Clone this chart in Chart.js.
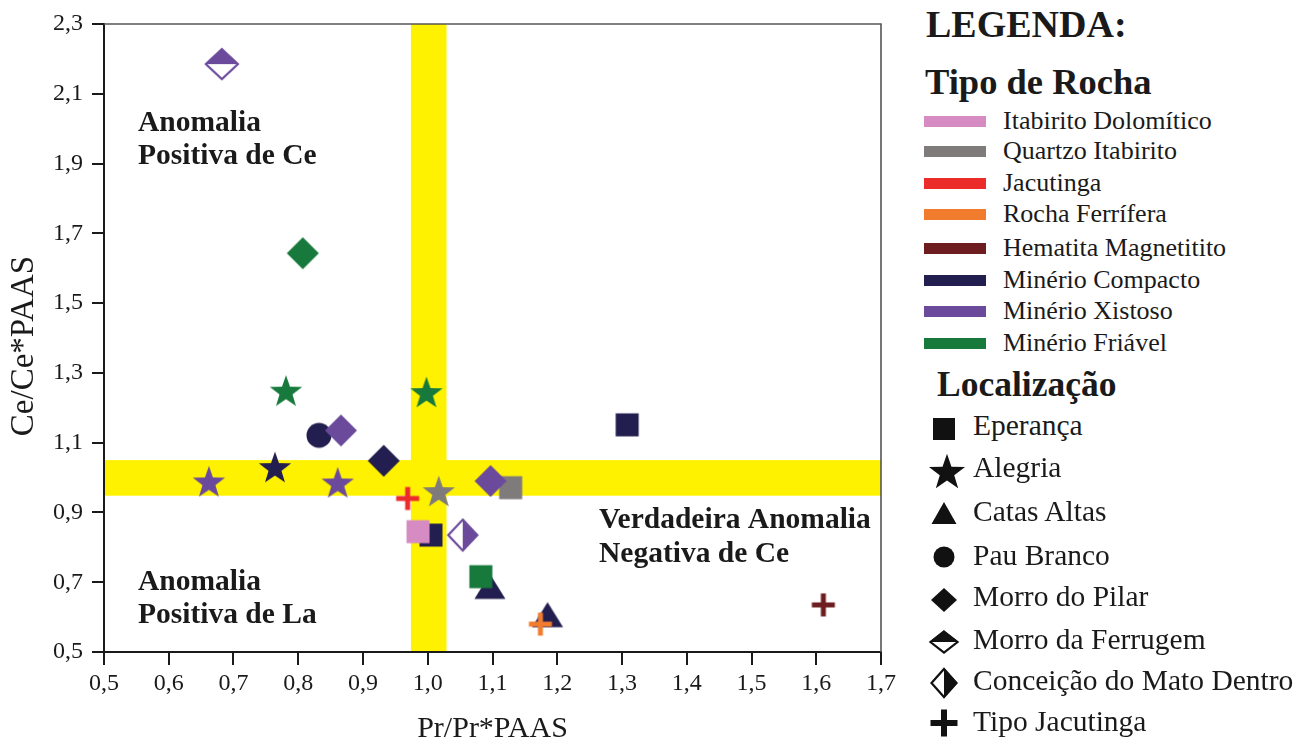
<!DOCTYPE html>
<html lang="pt">
<head>
<meta charset="utf-8">
<title>Ce/Ce*PAAS vs Pr/Pr*PAAS</title>
<script src="https://cdn.jsdelivr.net/npm/chart.js@4.4.1/dist/chart.umd.min.js"></script>
<style>
  html, body { margin: 0; padding: 0; background: #fff; }
  body { width: 1314px; height: 747px; position: relative; overflow: hidden;
         font-family: 'Liberation Serif', 'Times New Roman', serif; color: #1a1a1a; }
  #plot { position: absolute; left: 0; top: 0; width: 900px; height: 747px; }
  .lg { position: absolute; white-space: nowrap; line-height: 1; }
  .bar { position: absolute; }
  .sym { position: absolute; }
</style>
</head>
<body>
<div id="plot"><canvas id="chart"></canvas></div>
<div id="legend"></div>
<script>
// ---- data ----
const rockTypes = ['Itabirito Dolomítico', 'Quartzo Itabirito', 'Jacutinga', 'Rocha Ferrífera',
                   'Hematita Magnetitito', 'Minério Compacto', 'Minério Xistoso', 'Minério Friável'];
const sites = ['Eperança', 'Alegria', 'Catas Altas', 'Pau Branco', 'Morro do Pilar',
               'Morro da Ferrugem', 'Conceição do Mato Dentro', 'Tipo Jacutinga'];

// samples, listed in drawing order (index into rockTypes / sites)
const prValues  = [1.005, 0.985, 1.308, 1.128, 1.097, 1.096, 1.082, 1.185, 1.174, 1.611, 0.969, 1.017,
                   0.832, 0.866, 0.764, 0.662, 0.861, 0.932, 0.781, 0.998, 0.807, 0.682, 1.054];
const ceValues  = [0.835, 0.845, 1.151, 0.971, 0.990, 0.688, 0.716, 0.607, 0.580, 0.635, 0.940, 0.961,
                   1.121, 1.135, 1.030, 0.989, 0.986, 1.048, 1.249, 1.245, 1.643, 2.185, 0.835];
const sampleRock = [5, 0, 5, 1, 6, 5, 7, 5, 3, 4, 2, 1, 5, 6, 5, 6, 6, 5, 7, 7, 7, 6, 6];
const sampleSite = [0, 0, 0, 0, 4, 2, 0, 2, 7, 7, 7, 1, 3, 4, 1, 1, 1, 4, 1, 1, 4, 5, 6];

// axis ranges, ticks and titles
const xRange = [0.5, 1.7], xStep = 0.1;
const yRange = [0.5, 2.3], yStep = 0.2;
const xTitle = 'Pr/Pr*PAAS';
const yTitle = 'Ce/Ce*PAAS';
// reference bands around 1.0
const prBand = [0.974, 1.029];
const ceBand = [0.948, 1.050];

// field labels: [lines, x, y of first baseline]
const fieldNotes = [
  [['Anomalia', 'Positiva de Ce'], 0.5525, 1.994],
  [['Anomalia', 'Positiva de La'], 0.5525, 0.678],
  [['Verdadeira Anomalia', 'Negativa de Ce'], 1.2645, 0.854]
];

// ---- styles ----
const FONT = "'Liberation Serif', 'Times New Roman', serif";
const INK = '#1a1a1a';
const rockColors = ['#d68bc3', '#7f7b7a', '#ec2b2b', '#f27c2e', '#6d1d1f', '#221e4f', '#6b4a9c', '#177a3c'];
const siteShapes = ['square', 'star', 'triangle', 'circle', 'diamond', 'diamondTop', 'diamondRight', 'cross'];
const plotSizes = {
  square: {w: 23, h: 23}, star: {r: 17}, triangle: {w: 31, h: 25}, circle: {w: 25},
  diamond: {w: 32, h: 32}, diamondTop: {w: 34, h: 32}, diamondRight: {w: 31, h: 33}, cross: {w: 23, h: 23, t: 5}
};
const legendSizes = {
  square: {w: 22, h: 22}, star: {r: 19}, triangle: {w: 25, h: 22}, circle: {w: 21},
  diamond: {w: 26, h: 24}, diamondTop: {w: 29, h: 23}, diamondRight: {w: 27, h: 30}, cross: {w: 27, h: 27, t: 6}
};

function diamondPath(ctx, w, h) {
  ctx.beginPath();
  ctx.moveTo(0, -h / 2); ctx.lineTo(w / 2, 0); ctx.lineTo(0, h / 2); ctx.lineTo(-w / 2, 0);
  ctx.closePath();
}

function paintSymbol(ctx, kind, color, s) {
  ctx.fillStyle = color;
  ctx.strokeStyle = color;
  switch (kind) {
    case 'square':
      ctx.fillRect(-s.w / 2, -s.h / 2, s.w, s.h);
      break;
    case 'star': {
      const R = s.r, r = R * 0.4, dy = R * 0.095;
      ctx.beginPath();
      for (let i = 0; i < 10; i++) {
        const a = -Math.PI / 2 + i * Math.PI / 5;
        const rad = i % 2 ? r : R;
        ctx.lineTo(rad * Math.cos(a), rad * Math.sin(a) + dy);
      }
      ctx.closePath();
      ctx.fill();
      break;
    }
    case 'triangle':
      ctx.beginPath();
      ctx.moveTo(0, -s.h / 2); ctx.lineTo(s.w / 2, s.h / 2); ctx.lineTo(-s.w / 2, s.h / 2);
      ctx.closePath();
      ctx.fill();
      break;
    case 'circle':
      ctx.beginPath();
      ctx.arc(0, 0, s.w / 2, 0, Math.PI * 2);
      ctx.fill();
      break;
    case 'diamond':
      diamondPath(ctx, s.w, s.h);
      ctx.fill();
      break;
    case 'diamondTop':
    case 'diamondRight': {
      ctx.fillStyle = '#fff';
      diamondPath(ctx, s.w, s.h);
      ctx.fill();
      ctx.fillStyle = color;
      ctx.beginPath();
      if (kind === 'diamondTop') {
        ctx.moveTo(-s.w / 2, 0); ctx.lineTo(0, -s.h / 2); ctx.lineTo(s.w / 2, 0);
      } else {
        ctx.moveTo(0, -s.h / 2); ctx.lineTo(s.w / 2, 0); ctx.lineTo(0, s.h / 2);
      }
      ctx.closePath();
      ctx.fill();
      ctx.lineWidth = 2.2;
      ctx.lineJoin = 'miter';
      diamondPath(ctx, s.w - 2, s.h - 2);
      ctx.stroke();
      break;
    }
    case 'cross':
      ctx.fillRect(-s.t / 2, -s.h / 2, s.t, s.h);
      ctx.fillRect(-s.w / 2, -s.t / 2, s.w, s.t);
      break;
  }
}

function symbolCanvas(kind, color, sizes, box) {
  const c = document.createElement('canvas');
  c.width = box; c.height = box;
  const ctx = c.getContext('2d');
  ctx.translate(box / 2, box / 2);
  paintSymbol(ctx, kind, color, sizes[kind]);
  return c;
}

// one marker image per sample: colour from rock type, shape from site
const markers = prValues.map((_, i) =>
  symbolCanvas(siteShapes[sampleSite[i]], rockColors[sampleRock[i]], plotSizes, 40));

const points = prValues.map((x, i) => ({x: x, y: ceValues[i]}));
const fmt = v => Number(v).toFixed(1).replace('.', ',');

// yellow reference bands behind everything
const bandsPlugin = {
  id: 'bands',
  beforeDraw(chart) {
    const {ctx, chartArea: a, scales: {x, y}} = chart;
    ctx.save();
    ctx.fillStyle = '#fff200';
    const x0 = x.getPixelForValue(prBand[0]), x1 = x.getPixelForValue(prBand[1]);
    ctx.fillRect(x0, a.top, x1 - x0, a.bottom - a.top);
    const y0 = y.getPixelForValue(ceBand[1]), y1 = y.getPixelForValue(ceBand[0]);
    ctx.fillRect(a.left, y0, a.right - a.left, y1 - y0);
    ctx.restore();
  }
};

// thin frame on the top and right edges, plus the vertical axis title
const framePlugin = {
  id: 'frame',
  afterDraw(chart) {
    const {ctx, chartArea: a} = chart;
    ctx.save();
    ctx.strokeStyle = '#555';
    ctx.lineWidth = 1.6;
    ctx.beginPath();
    ctx.moveTo(a.left, a.top);
    ctx.lineTo(a.right, a.top);
    ctx.lineTo(a.right, a.bottom);
    ctx.stroke();
    ctx.translate(24, (a.top + a.bottom) / 2 + 8);
    ctx.rotate(-Math.PI / 2);
    ctx.fillStyle = INK;
    ctx.font = '33px ' + FONT;
    ctx.textAlign = 'center';
    ctx.textBaseline = 'middle';
    ctx.fillText(yTitle, 0, 0);
    ctx.restore();
  }
};

// field names written inside the plot
const notesPlugin = {
  id: 'notes',
  afterDatasetsDraw(chart) {
    const {ctx, scales: {x, y}} = chart;
    ctx.save();
    ctx.fillStyle = INK;
    ctx.font = 'bold 29.5px ' + FONT;
    ctx.textBaseline = 'alphabetic';
    ctx.textAlign = 'left';
    fieldNotes.forEach(([lines, vx, vy]) => {
      const px = x.getPixelForValue(vx), py = y.getPixelForValue(vy);
      lines.forEach((t, k) => ctx.fillText(t, px, py + k * 33.5));
    });
    ctx.restore();
  }
};

new Chart(document.getElementById('chart'), {
  type: 'scatter',
  data: {
    datasets: [{
      data: points,
      pointStyle: c => markers[c.dataIndex],
      pointRadius: 14,
      pointHoverRadius: 14
    }]
  },
  options: {
    animation: false,
    responsive: true,
    maintainAspectRatio: false,
    events: [],
    layout: {padding: {top: 24, right: 18, left: 0, bottom: 0}},
    plugins: {legend: {display: false}, tooltip: {enabled: false}},
    scales: {
      x: {
        type: 'linear', min: xRange[0], max: xRange[1],
        ticks: {stepSize: xStep, callback: fmt, autoSkip: false, maxRotation: 0,
                font: {family: FONT, size: 24}, color: INK, padding: 4},
        grid: {drawOnChartArea: false, tickLength: 13, tickWidth: 2, lineWidth: 2, tickColor: INK},
        border: {color: INK, width: 2},
        title: {display: true, text: xTitle, color: INK,
                font: {family: FONT, size: 30}, padding: {top: 0, bottom: 0}},
        afterFit: s => { s.height = 95; }
      },
      y: {
        type: 'linear', min: yRange[0], max: yRange[1],
        ticks: {stepSize: yStep, callback: fmt, autoSkip: false,
                font: {family: FONT, size: 24}, color: INK, padding: 9},
        grid: {drawOnChartArea: false, tickLength: 12, tickWidth: 2, lineWidth: 2, tickColor: INK},
        border: {color: INK, width: 2},
        title: {display: false},
        afterFit: s => { s.width = 104; }
      }
    }
  },
  plugins: [bandsPlugin, framePlugin, notesPlugin]
});

// ---- legend ----
const legend = document.getElementById('legend');
function placeText(text, left, baseline, size, bold) {
  const d = document.createElement('div');
  d.className = 'lg';
  d.textContent = text;
  d.style.left = left + 'px';
  d.style.top = (baseline - 0.8375 * size) + 'px';
  d.style.fontSize = size + 'px';
  d.style.fontWeight = bold ? 'bold' : 'normal';
  legend.appendChild(d);
}
placeText('LEGENDA:', 926, 37, 38, true);
placeText('Tipo de Rocha', 925, 95, 36.5, true);
const rockRowBase = [130, 160, 191.7, 222.3, 256.7, 288.3, 320, 351.7];
rockTypes.forEach((name, i) => {
  const b = document.createElement('div');
  b.className = 'bar';
  Object.assign(b.style, {left: '924px', width: '62px', height: '11px',
    top: (rockRowBase[i] - 8.3 - 5.5) + 'px', background: rockColors[i]});
  legend.appendChild(b);
  placeText(name, 1003, rockRowBase[i], 26, false);
});
placeText('Localização', 937, 397, 35.5, true);
const siteRowBase = [436, 477.5, 522, 565.5, 607, 650, 690.5, 732];
const siteSymY = [429, 471, 513, 557, 599.5, 641.5, 683, 723];
sites.forEach((name, i) => {
  const c = symbolCanvas(siteShapes[i], '#111', legendSizes, 44);
  c.className = 'sym';
  const cx = siteShapes[i] === 'star' ? 947 : 944;
  c.style.left = (cx - 22) + 'px';
  c.style.top = (siteSymY[i] - 22) + 'px';
  legend.appendChild(c);
  placeText(name, 973, siteRowBase[i], 29.5, false);
});
</script>
</body>
</html>
